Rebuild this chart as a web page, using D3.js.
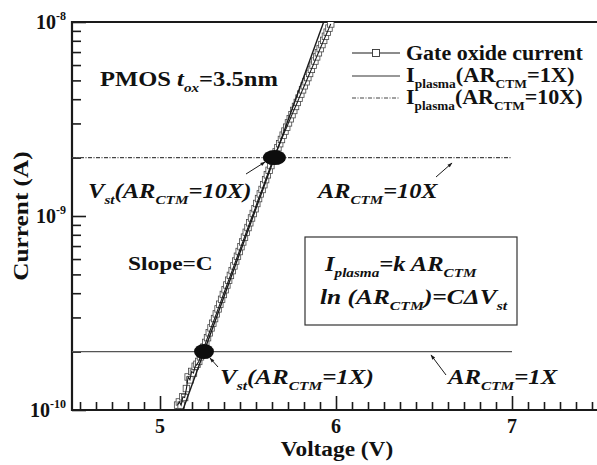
<!DOCTYPE html>
<html>
<head>
<meta charset="utf-8">
<script src="https://cdn.jsdelivr.net/npm/d3@7"></script>
<style>
  html, body { margin: 0; padding: 0; background: #fff; }
  svg { display: block; }
  text { font-family: "Liberation Serif", "Times New Roman", serif; font-weight: bold; fill: #111; }
</style>
</head>
<body>
<svg id="chart" width="597" height="465"></svg>
<script>
// Gate oxide current of a PMOS device (tox = 3.5 nm) versus gate voltage
const voltage = [
  5.10, 5.11, 5.12, 5.13, 5.14, 5.15, 5.16, 5.17, 5.18, 5.19,
  5.20, 5.21, 5.22, 5.23, 5.24, 5.25, 5.26, 5.27, 5.28, 5.29,
  5.30, 5.31, 5.32, 5.33, 5.34, 5.35, 5.36, 5.37, 5.38, 5.39,
  5.40, 5.41, 5.42, 5.43, 5.44, 5.45, 5.46, 5.47, 5.48, 5.49,
  5.50, 5.51, 5.52, 5.53, 5.54, 5.55, 5.56, 5.57, 5.58, 5.59,
  5.60, 5.61, 5.62, 5.63, 5.64, 5.65, 5.66, 5.67, 5.68, 5.69,
  5.70, 5.71, 5.72, 5.73, 5.74, 5.75, 5.76, 5.77, 5.78, 5.79,
  5.80, 5.81, 5.82, 5.83, 5.84, 5.85, 5.86, 5.87, 5.88, 5.89,
  5.90, 5.91, 5.92, 5.93, 5.94, 5.95, 5.96, 5.97
];
const gateCurrent = [
  1.06e-10, 1.10e-10, 1.06e-10, 1.17e-10, 1.16e-10, 1.29e-10, 1.48e-10, 1.43e-10, 1.58e-10, 1.55e-10,
  1.68e-10, 1.72e-10, 1.78e-10, 1.88e-10, 1.99e-10, 2.11e-10, 2.23e-10, 2.36e-10, 2.50e-10, 2.65e-10,
  2.80e-10, 2.96e-10, 3.13e-10, 3.32e-10, 3.51e-10, 3.72e-10, 3.94e-10, 4.17e-10, 4.41e-10, 4.67e-10,
  4.94e-10, 5.23e-10, 5.53e-10, 5.86e-10, 6.20e-10, 6.56e-10, 6.95e-10, 7.35e-10, 7.78e-10, 8.24e-10,
  8.72e-10, 9.23e-10, 9.77e-10, 1.03e-9, 1.09e-9, 1.16e-9, 1.23e-9, 1.30e-9, 1.37e-9, 1.45e-9,
  1.54e-9, 1.63e-9, 1.72e-9, 1.82e-9, 1.93e-9, 2.04e-9, 2.14e-9, 2.25e-9, 2.36e-9, 2.48e-9,
  2.61e-9, 2.74e-9, 2.87e-9, 3.02e-9, 3.17e-9, 3.33e-9, 3.50e-9, 3.67e-9, 3.85e-9, 4.05e-9,
  4.25e-9, 4.47e-9, 4.69e-9, 4.92e-9, 5.17e-9, 5.43e-9, 5.70e-9, 5.99e-9, 6.29e-9, 6.61e-9,
  6.94e-9, 7.29e-9, 7.65e-9, 8.04e-9, 8.44e-9, 8.86e-9, 9.30e-9, 9.77e-9
];

// Straight fit through the two threshold points (slope = C)
const fitVoltage = [5.13, 5.93];
const fitCurrent = [1e-10, 1e-8];

// Plasma current levels for the two antenna ratios
const plasmaSpan = [4.5, 7.0];
const plasma1X = 2e-10;
const plasma10X = 2e-9;

// Threshold (Vst) points where each plasma level crosses the gate current
const vstVoltage = [5.25, 5.65];
const vstCurrent = [2e-10, 2e-9];

// Axes
const xDomain = [4.5, 7.5];
const yDomain = [1e-10, 1e-8];
const xMajorTicks = [5, 6, 7];
const xTickLabels = ["5", "6", "7"];
const yMajorTicks = [1e-10, 1e-9, 1e-8];
const yTickExponents = ["-10", "-9", "-8"];

const svg = d3.select("#chart");
const x = d3.scaleLinear().domain(xDomain).range([72, 600]);
const y = d3.scaleLog().domain(yDomain).range([410, 22]);

// minor x ticks: ten per major interval
const xMinorTicks = [];
for (let m = 4; m <= 7; m++) {
  for (let k = 1; k <= 10; k++) {
    const v = m + k / 11;
    if (v > xDomain[0] && v < xDomain[1]) xMinorTicks.push(v);
  }
}
// minor y ticks: 2..9 within each decade
const yMinorTicks = [];
[1e-10, 1e-9].forEach(d => { for (let k = 2; k <= 9; k++) yMinorTicks.push(k * d); });

const ink = "#1a1a1a";

// tick marks drawn inward with d3 axes
function styleAxis(g) {
  g.select(".domain").remove();
  g.selectAll("line").attr("stroke", ink).attr("stroke-width", 1.6);
}
svg.append("g").attr("transform", "translate(0,410)")
  .call(d3.axisBottom(x).tickValues(xMajorTicks).tickSize(-14).tickFormat(""))
  .call(styleAxis);
svg.append("g").attr("transform", "translate(0,410)")
  .call(d3.axisBottom(x).tickValues(xMinorTicks).tickSize(-8).tickFormat(""))
  .call(styleAxis);
svg.append("g").attr("transform", "translate(72,0)")
  .call(d3.axisLeft(y).tickValues(yMajorTicks).tickSize(-14).tickFormat(""))
  .call(styleAxis);
svg.append("g").attr("transform", "translate(72,0)")
  .call(d3.axisLeft(y).tickValues(yMinorTicks).tickSize(-9).tickFormat(""))
  .call(styleAxis);

// frame lines
svg.append("path")
  .attr("d", `M597,${y(yDomain[1])}H${x(xDomain[0])}V${y(yDomain[0])}H597`)
  .attr("fill", "none").attr("stroke", ink).attr("stroke-width", 2.2);

// tick labels
svg.selectAll(".xlab").data(xMajorTicks).join("text")
  .attr("class", "xlab")
  .attr("x", d => x(d)).attr("y", 433)
  .attr("text-anchor", "middle").attr("font-size", 20)
  .text((d, i) => xTickLabels[i]);

const ylab = svg.selectAll(".ylab").data(yMajorTicks).join("text")
  .attr("class", "ylab")
  .attr("x", 66).attr("y", d => y(d) + 7)
  .attr("text-anchor", "end").attr("font-size", 20);
ylab.append("tspan").text("10");
ylab.append("tspan").attr("font-size", 12).attr("dy", -9).text((d, i) => yTickExponents[i]);

// rich text with subscripts, widened horizontally by sx
function rich(xp, yp, parts, size, italic, sx, anchor) {
  const t = svg.append("text")
    .attr("transform", `translate(${xp},${yp}) scale(${sx || 1},1)`)
    .attr("font-size", size);
  if (anchor) t.attr("text-anchor", anchor);
  if (italic) t.attr("font-style", "italic");
  let shift = 0;
  parts.forEach(p => {
    const sub = p[1] === "sub";
    const target = sub ? Math.round(size * 0.3) : 0;
    const s = t.append("tspan").text(p[0]).attr("dy", target - shift);
    if (sub) s.attr("font-size", Math.round(size * 0.62));
    if (p[2]) s.attr("font-style", p[2]);
    shift = target;
  });
  return t;
}

// axis titles
rich(337, 456, [["Voltage (V)"]], 22, false, 1.06, "middle");
svg.append("text")
  .attr("transform", "translate(28,216) rotate(-90) scale(1.15,1)")
  .attr("text-anchor", "middle").attr("font-size", 22).text("Current (A)");

// plotting area
svg.append("clipPath").attr("id", "plot-clip")
  .append("rect").attr("x", 72).attr("y", 22).attr("width", 528).attr("height", 388);
const plot = svg.append("g").attr("clip-path", "url(#plot-clip)");

// plasma current levels
plot.append("line")
  .attr("x1", x(plasmaSpan[0])).attr("x2", x(plasmaSpan[1]))
  .attr("y1", y(plasma1X)).attr("y2", y(plasma1X))
  .attr("stroke", "#555").attr("stroke-width", 1.3);
plot.append("line")
  .attr("x1", x(plasmaSpan[0])).attr("x2", x(plasmaSpan[1]))
  .attr("y1", y(plasma10X)).attr("y2", y(plasma10X))
  .attr("stroke", "#444").attr("stroke-width", 1.1)
  .attr("stroke-dasharray", "4,1.5,1,1.5");

// gate oxide current markers
const sq = 6.5;
plot.selectAll(".pt").data(voltage).join("rect")
  .attr("class", "pt")
  .attr("x", d => x(d) - sq / 2)
  .attr("y", (d, i) => y(gateCurrent[i]) - sq / 2)
  .attr("width", sq).attr("height", sq)
  .attr("fill", "#fff").attr("stroke", "#444").attr("stroke-width", 0.8);

// connecting line of the measured data
const dataLine = d3.line().x(d => x(d)).y((d, i) => y(gateCurrent[i]));
plot.append("path").datum(voltage).attr("d", dataLine)
  .attr("fill", "none").attr("stroke", ink).attr("stroke-width", 1.1);

// fit line
const fitLine = d3.line().x(d => x(d)).y((d, i) => y(fitCurrent[i]));
plot.append("path").datum(fitVoltage).attr("d", fitLine)
  .attr("fill", "none").attr("stroke", ink).attr("stroke-width", 1.4);

// Vst markers
plot.selectAll(".vst").data(vstVoltage).join("ellipse")
  .attr("class", "vst")
  .attr("cx", d => x(d)).attr("cy", (d, i) => y(vstCurrent[i]))
  .attr("rx", (d, i) => i === 0 ? 10 : 11.5).attr("ry", 7.5)
  .attr("fill", "#0d0d0d");

// arrows
const defs = svg.append("defs");
defs.append("marker").attr("id", "arrowhead")
  .attr("viewBox", "0 0 10 10").attr("refX", 9).attr("refY", 5)
  .attr("markerWidth", 7).attr("markerHeight", 5).attr("orient", "auto")
  .append("path").attr("d", "M0,1.5L10,5L0,8.5Z").attr("fill", ink);
function arrow(x1, y1, x2, y2) {
  svg.append("line").attr("x1", x1).attr("y1", y1).attr("x2", x2).attr("y2", y2)
    .attr("stroke", ink).attr("stroke-width", 1)
    .attr("marker-end", "url(#arrowhead)");
}
arrow(246, 174, 265, 162);
arrow(436, 177, 452, 163);
arrow(218, 367, 210, 358);
arrow(446, 375, 431, 355);

// device label
rich(100, 86, [["PMOS "], ["t", "", "italic"], ["ox", "sub", "italic"], ["=3.5nm"]], 21, false, 1.17);

// legend
const legendX = [352, 400];
svg.append("line").attr("x1", legendX[0]).attr("x2", legendX[1]).attr("y1", 53).attr("y2", 53)
  .attr("stroke", ink).attr("stroke-width", 1.1);
svg.append("rect").attr("x", 372.5).attr("y", 49.5).attr("width", 7).attr("height", 7)
  .attr("fill", "#fff").attr("stroke", "#333").attr("stroke-width", 0.9);
svg.append("line").attr("x1", legendX[0]).attr("x2", legendX[1]).attr("y1", 76).attr("y2", 76)
  .attr("stroke", "#333").attr("stroke-width", 1.2);
svg.append("line").attr("x1", legendX[0]).attr("x2", legendX[1]).attr("y1", 98).attr("y2", 98)
  .attr("stroke", "#444").attr("stroke-width", 1.1).attr("stroke-dasharray", "4,1.5,1,1.5");
rich(406, 60, [["Gate oxide current"]], 20, false, 1.1);
rich(406, 82, [["I"], ["plasma", "sub"], ["(AR"], ["CTM", "sub"], ["=1X)"]], 20, false, 1.12);
rich(406, 104, [["I"], ["plasma", "sub"], ["(AR"], ["CTM", "sub"], ["=10X)"]], 20, false, 1.1);

// annotations
rich(88, 198, [["V"], ["st", "sub"], ["(AR"], ["CTM", "sub"], ["=10X)"]], 21, true, 1.17);
rich(318, 198, [["AR"], ["CTM", "sub"], ["=10X"]], 21, true, 1.16);
rich(220, 384, [["V"], ["st", "sub"], ["(AR"], ["CTM", "sub"], ["=1X)"]], 21, true, 1.19);
rich(448, 384, [["AR"], ["CTM", "sub"], ["=1X"]], 21, true, 1.18);
rich(128, 270, [["Slope=C"]], 19, false, 1.23);

// relation box
svg.append("rect").attr("x", 305).attr("y", 237).attr("width", 212).attr("height", 88)
  .attr("fill", "none").attr("stroke", "#333").attr("stroke-width", 1.2);
rich(325, 271, [["I"], ["plasma", "sub"], ["=k AR"], ["CTM", "sub"]], 21, true, 1.17);
rich(320, 304, [["ln (AR"], ["CTM", "sub"], [")=C\u0394V"], ["st", "sub"]], 21, true, 1.21);
</script>
</body>
</html>
